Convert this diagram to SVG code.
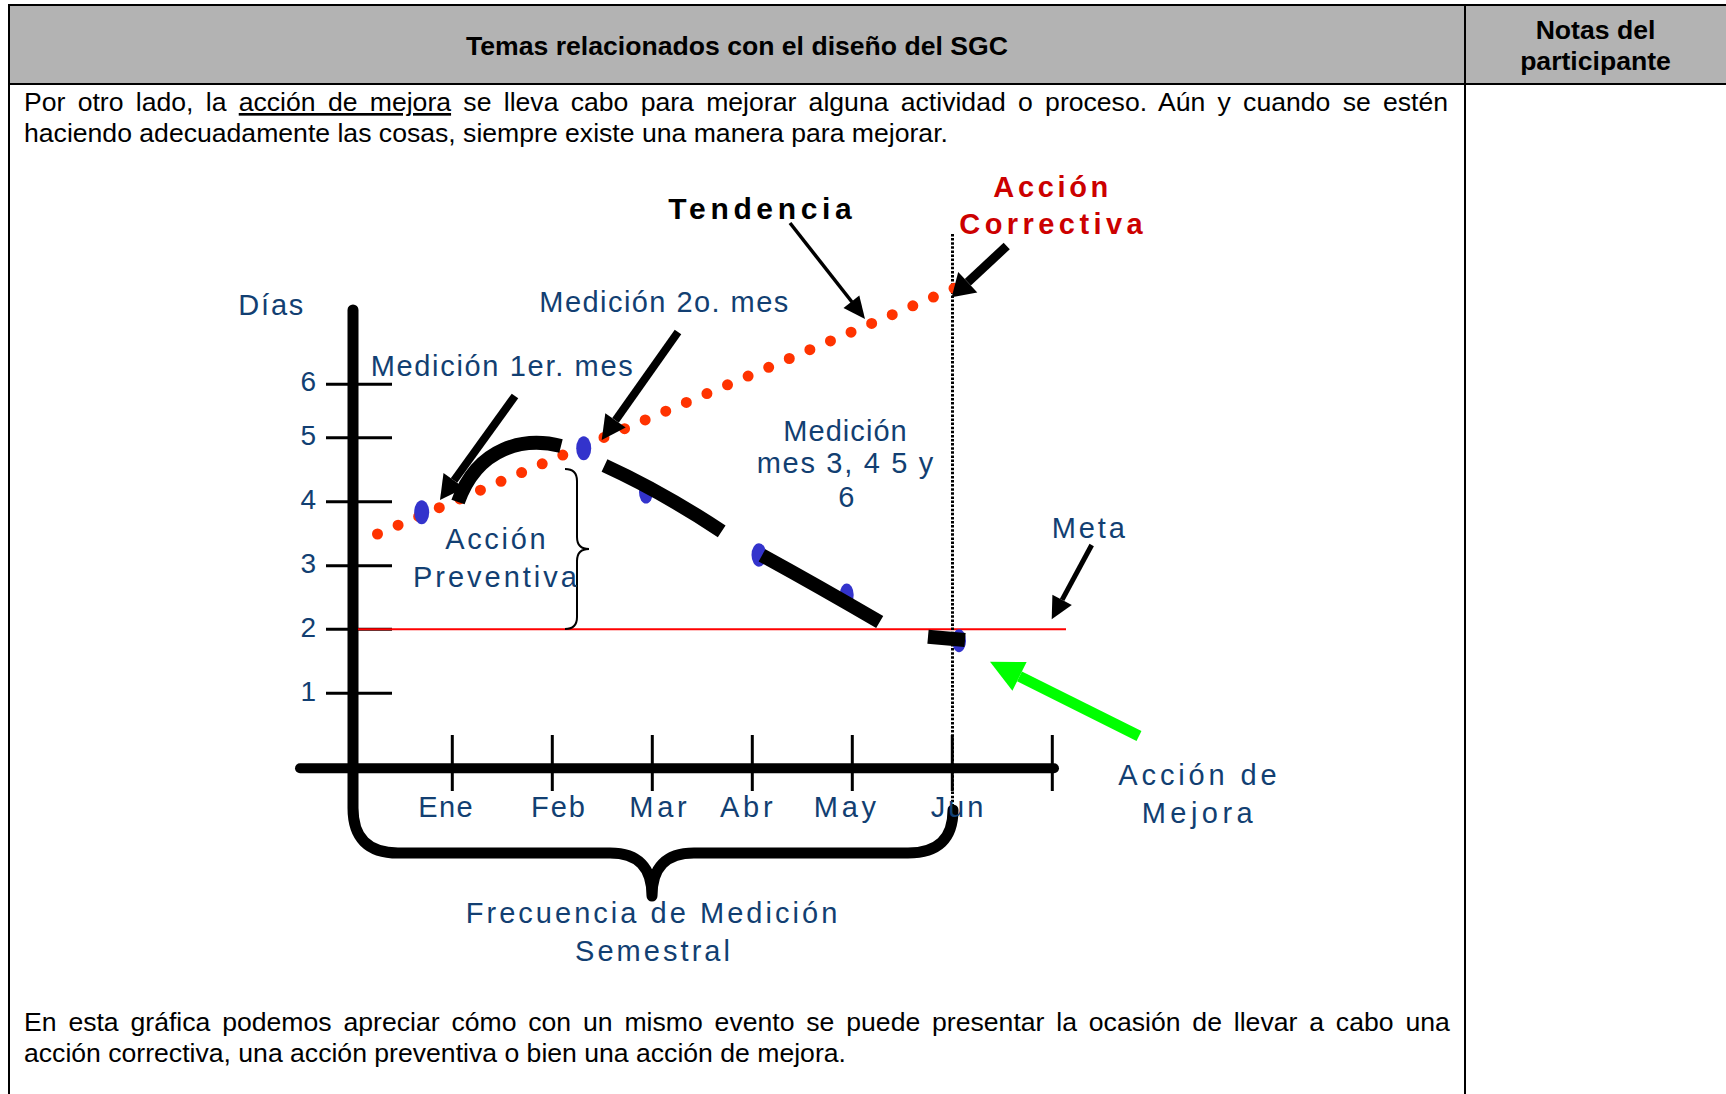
<svg xmlns="http://www.w3.org/2000/svg" width="1726" height="1094" viewBox="0 0 1726 1094">
<style>
.frame{stroke:#000;stroke-width:2;fill:none}
.body{font-family:"Liberation Sans",Arial,sans-serif;font-size:26.6px;fill:#000}
.hdr{font-family:"Liberation Sans",Arial,sans-serif;font-size:26.6px;font-weight:bold;fill:#000;text-anchor:middle}
.lbl{font-family:"Liberation Sans",Arial,sans-serif;font-size:29px;fill:#123F72}
.ytk{font-family:"Liberation Sans",Arial,sans-serif;font-size:28px;fill:#123F72;text-anchor:end}
.blk{font-family:"Liberation Sans",Arial,sans-serif;font-weight:bold;font-size:30px;fill:#000}
.red{font-family:"Liberation Sans",Arial,sans-serif;font-weight:bold;font-size:29px;fill:#CC0000}
.tick{stroke:#000;stroke-width:3}
.pt{fill:#3333CC}
.bar{stroke:#000;stroke-width:14;fill:none}
.head{fill:#000}
</style>
<rect width="1726" height="1094" fill="#fff"/>
<g id="table">
<rect x="9" y="5" width="1717" height="79" fill="#B3B3B3"/>
<line x1="8" y1="5" x2="1726" y2="5" class="frame" stroke-width="2.5"/>
<line x1="8" y1="84" x2="1726" y2="84" class="frame"/>
<line x1="9" y1="4" x2="9" y2="1094" class="frame"/>
<line x1="1465" y1="4" x2="1465" y2="1094" class="frame"/>
<text class="hdr" x="737" y="55">Temas relacionados con el diseño del SGC</text>
<text class="hdr" x="1595.5" y="39">Notas del</text>
<text class="hdr" x="1595.5" y="70">participante</text>
</g>
<g id="intro">
<text class="body" x="24" y="111" word-spacing="4.9">Por otro lado, la <tspan text-decoration="underline">acción de mejora</tspan> se lleva cabo para mejorar alguna actividad o proceso. Aún y cuando se estén</text>
<text class="body" x="24" y="142">haciendo adecuadamente las cosas, siempre existe una manera para mejorar.</text>
</g>
<g id="outro">
<text class="body" x="24" y="1031" word-spacing="4.47">En esta gráfica podemos apreciar cómo con un mismo evento se puede presentar la ocasión de llevar a cabo una</text>
<text class="body" x="24" y="1062">acción correctiva, una acción preventiva o bien una acción de mejora.</text>
</g>

<g id="axes">
<path d="M353,310 L353,808 Q353,853 398,853 L610,853 Q652,853 652,896 Q652,853 694,853 L908,853 Q953,853 953,810" fill="none" stroke="#000" stroke-width="11" stroke-linecap="round" stroke-linejoin="round"/>
<line x1="300" y1="768.3" x2="1054" y2="768.3" stroke="#000" stroke-width="10" stroke-linecap="round"/>
<line class="tick" x1="326" y1="384.3" x2="392" y2="384.3"/>
<line class="tick" x1="326" y1="437.7" x2="392" y2="437.7"/>
<line class="tick" x1="326" y1="501.7" x2="392" y2="501.7"/>
<line class="tick" x1="326" y1="565.7" x2="392" y2="565.7"/>
<line class="tick" x1="326" y1="629.3" x2="392" y2="629.3"/>
<line class="tick" x1="326" y1="693.3" x2="392" y2="693.3"/>
<line class="tick" x1="452.3" y1="735" x2="452.3" y2="791"/>
<line class="tick" x1="552.3" y1="735" x2="552.3" y2="791"/>
<line class="tick" x1="652.3" y1="735" x2="652.3" y2="791"/>
<line class="tick" x1="752.3" y1="735" x2="752.3" y2="791"/>
<line class="tick" x1="852.3" y1="735" x2="852.3" y2="791"/>
<line class="tick" x1="952.3" y1="735" x2="952.3" y2="791"/>
<line class="tick" x1="1052.3" y1="735" x2="1052.3" y2="791"/>
</g>
<g id="goal-line">
<line x1="358" y1="629.3" x2="1066" y2="629.3" stroke="#FF0000" stroke-width="2"/>
</g>
<g id="jun-guide">
<line x1="952.5" y1="234" x2="952.5" y2="812" stroke="#000" stroke-width="3" stroke-dasharray="2.5 1.6"/>
</g>
<g id="tendencia-dots">
<path d="M377.5,534 L954,288.3" stroke="#FF3300" stroke-width="11" stroke-linecap="round" stroke-dasharray="0 22.381" fill="none"/>
</g>
<g id="mediciones">
<ellipse class="pt" cx="421.7" cy="512.3" rx="7.5" ry="12"/>
<ellipse class="pt" cx="583.7" cy="448.3" rx="7.5" ry="12"/>
<ellipse class="pt" cx="646" cy="492" rx="7" ry="11.5"/>
<ellipse class="pt" cx="759" cy="555" rx="7.5" ry="11.7"/>
<ellipse class="pt" cx="846.7" cy="595" rx="7" ry="11.5"/>
<ellipse class="pt" cx="959" cy="640.7" rx="7" ry="11.5"/>
</g>
<g id="bars">
<path class="bar" d="M604.5,465.5 Q661.5,491.5 721.7,531.3"/>
<path class="bar" d="M762,555.3 Q818,586 879.7,622"/>
<path class="bar" d="M928,636.7 L965,640"/>
</g>
<g id="brace-preventiva">
<path d="M565,469 Q577,469 577,481 L577,537 Q577,549 589,549 Q577,549 577,561 L577,617 Q577,629 565,629" fill="none" stroke="#000" stroke-width="2"/>
</g>
<g id="connectors">
<path d="M561,446 C525,437 478,446 458,502" fill="none" stroke="#000" stroke-width="14"/>
<line x1="515" y1="396" x2="454" y2="480.5" stroke="#000" stroke-width="8"/>
<polygon class="head" points="440,500 464.5,488.1 443.5,472.9"/>
<line x1="678" y1="332" x2="615.5" y2="420.4" stroke="#000" stroke-width="8"/>
<polygon class="head" points="601.7,440 625.7,427.6 605.3,413.2"/>
<line x1="790" y1="223" x2="852" y2="302" stroke="#000" stroke-width="3.5"/>
<polygon class="head" points="865,319 843.5,307.9 859.3,295.5"/>
<line x1="1006.7" y1="246" x2="967.8" y2="282.3" stroke="#000" stroke-width="9"/>
<polygon class="head" points="951.7,297.3 977.3,292.5 958.2,272.1"/>
<line x1="1091.7" y1="545" x2="1062.1" y2="599.9" stroke="#000" stroke-width="5"/>
<polygon class="head" points="1051.7,619.3 1071.8,605.1 1052.4,594.7"/>
<line x1="1139" y1="736" x2="1019.5" y2="676.4" stroke="#00FF00" stroke-width="11"/>
<polygon points="990,661.7 1026.6,662.1 1012.4,690.7" fill="#00FF00"/>
</g>
<g id="labels">
<text class="lbl" x="238.3" y="315" font-size="30" textLength="65" lengthAdjust="spacing">Días</text>
<text class="ytk" x="316" y="391">6</text>
<text class="ytk" x="316" y="445">5</text>
<text class="ytk" x="316" y="509">4</text>
<text class="ytk" x="316" y="573">3</text>
<text class="ytk" x="316" y="636.5">2</text>
<text class="ytk" x="316" y="700.5">1</text>
<text class="lbl" x="370.7" y="375.7" font-size="27.5" textLength="262" lengthAdjust="spacing">Medición 1er. mes</text>
<text class="lbl" x="539.3" y="311.7" font-size="28" textLength="249" lengthAdjust="spacing">Medición 2o. mes</text>
<text class="blk" x="668.3" y="219.3" font-size="30.5" textLength="183.4" lengthAdjust="spacing">Tendencia</text>
<text class="red" x="993.3" y="197.3" textLength="115" lengthAdjust="spacing">Acción</text>
<text class="red" x="959.3" y="234" textLength="183.4" lengthAdjust="spacing">Correctiva</text>
<text class="lbl" x="783.3" y="440.7" font-size="27" textLength="123.4" lengthAdjust="spacing">Medición</text>
<text class="lbl" x="756.7" y="473.3" font-size="27" textLength="176.6" lengthAdjust="spacing">mes 3, 4 5 y</text>
<text class="lbl" x="838.3" y="506.7" font-size="27">6</text>
<text class="lbl" x="445.2" y="549.3" textLength="100.4" lengthAdjust="spacing">Acción</text>
<text class="lbl" x="413" y="586.7" textLength="163.9" lengthAdjust="spacing">Preventiva</text>
<text class="lbl" x="1051.7" y="538.3" textLength="73.3" lengthAdjust="spacing">Meta</text>
<text class="lbl" x="1118.3" y="785" font-size="31" textLength="158.4" lengthAdjust="spacing">Acción de</text>
<text class="lbl" x="1141.7" y="822.7" font-size="31" textLength="111" lengthAdjust="spacing">Mejora</text>
<text class="lbl" x="418.3" y="817.3" font-size="29.5" textLength="54.4" lengthAdjust="spacing">Ene</text>
<text class="lbl" x="531" y="817.3" font-size="29.5" textLength="54" lengthAdjust="spacing">Feb</text>
<text class="lbl" x="629.3" y="817.3" font-size="29.5" textLength="57.4" lengthAdjust="spacing">Mar</text>
<text class="lbl" x="720" y="817.3" font-size="29.5" textLength="52.7" lengthAdjust="spacing">Abr</text>
<text class="lbl" x="813.8" y="817.3" font-size="29.5" textLength="62.2" lengthAdjust="spacing">May</text>
<text class="lbl" x="930.7" y="817.3" font-size="29.5" textLength="52.6" lengthAdjust="spacing">Jun</text>
<text class="lbl" x="465.7" y="923.3" font-size="30" textLength="371.6" lengthAdjust="spacing">Frecuencia de Medición</text>
<text class="lbl" x="575" y="960.7" font-size="30" textLength="155" lengthAdjust="spacing">Semestral</text>
</g>
</svg>
